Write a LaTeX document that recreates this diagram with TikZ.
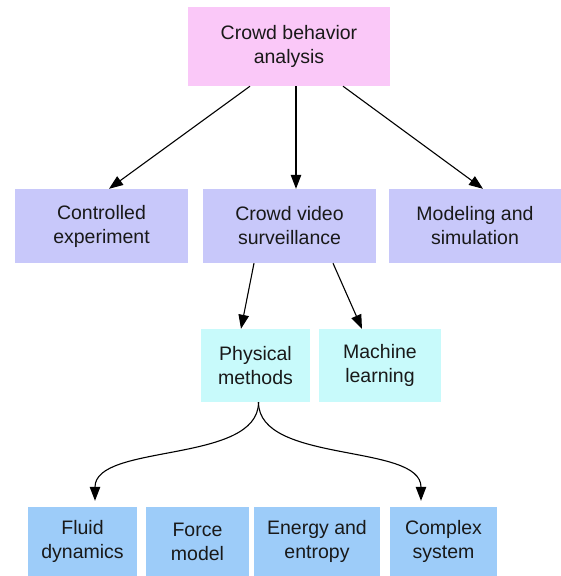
\documentclass[tikz,border=0pt]{standalone}
\usepackage{fontspec}
\setmainfont{Liberation Sans}
\usetikzlibrary{arrows.meta}
\definecolor{cpink}{RGB}{250,200,248}
\definecolor{clav}{RGB}{200,200,250}
\definecolor{ccyan}{RGB}{200,250,251}
\definecolor{cblue}{RGB}{157,204,249}
\begin{document}
\begin{tikzpicture}[x=1pt,y=-1pt,
  box/.style={rectangle,inner sep=0pt,align=center,font=\fontsize{19.5}{24}\selectfont,text=black!90},
  arr/.style={line width=1.1pt,-{Triangle[length=14pt,width=10.5pt]}}]
\useasboundingbox (0,0) rectangle (561,576);
\fill[white] (0,0) rectangle (561,576);
\node[box,fill=cpink,minimum width=202pt,minimum height=79pt] (top) at (289,46.5) {Crowd behavior\\analysis};
\node[box,fill=clav,minimum width=173pt,minimum height=74pt] (ctrl) at (101.5,226) {Controlled\\experiment};
\node[box,fill=clav,minimum width=173pt,minimum height=74pt] (video) at (289.5,226) {Crowd video\\surveillance};
\node[box,fill=clav,minimum width=172pt,minimum height=74pt] (model) at (475,226) {Modeling and\\simulation};
\node[box,fill=ccyan,minimum width=109pt,minimum height=73pt] (phys) at (255.5,365.5) {Physical\\methods};
\node[box,fill=ccyan,minimum width=122pt,minimum height=73pt] (ml) at (380,365.5) {Machine\\learning};
\node[box,fill=cblue,minimum width=109pt,minimum height=69pt] (fluid) at (82.5,541.5) {Fluid\\dynamics};
\node[box,fill=cblue,minimum width=103pt,minimum height=69pt] (force) at (197.5,541.5) {Force\\model};
\node[box,fill=cblue,minimum width=126pt,minimum height=69pt] (energy) at (317,541.5) {Energy and\\entropy};
\node[box,fill=cblue,minimum width=107pt,minimum height=69pt] (complex) at (443.5,541.5) {Complex\\system};
\draw[arr] ([xshift=-39pt]top.south) -- ([xshift=7.5pt]ctrl.north);
\draw[arr] ([xshift=7pt]top.south) -- ([xshift=6.5pt]video.north);
\draw[arr] ([xshift=54pt]top.south) -- ([xshift=8pt]model.north);
\draw[arr] ([xshift=-35.5pt]video.south) -- ([xshift=-14.5pt]phys.north);
\draw[arr] ([xshift=43.5pt]video.south) -- ([xshift=-18pt]ml.north);
\draw[arr] ([xshift=3pt]phys.south) .. controls +(0,62) and +(0,-58) .. ([xshift=12.5pt,yshift=6pt]fluid.north);
\draw[arr] ([xshift=3pt]phys.south) .. controls +(0,62) and +(0,-58) .. ([xshift=-22.5pt,yshift=6pt]complex.north);
\end{tikzpicture}
\end{document}
